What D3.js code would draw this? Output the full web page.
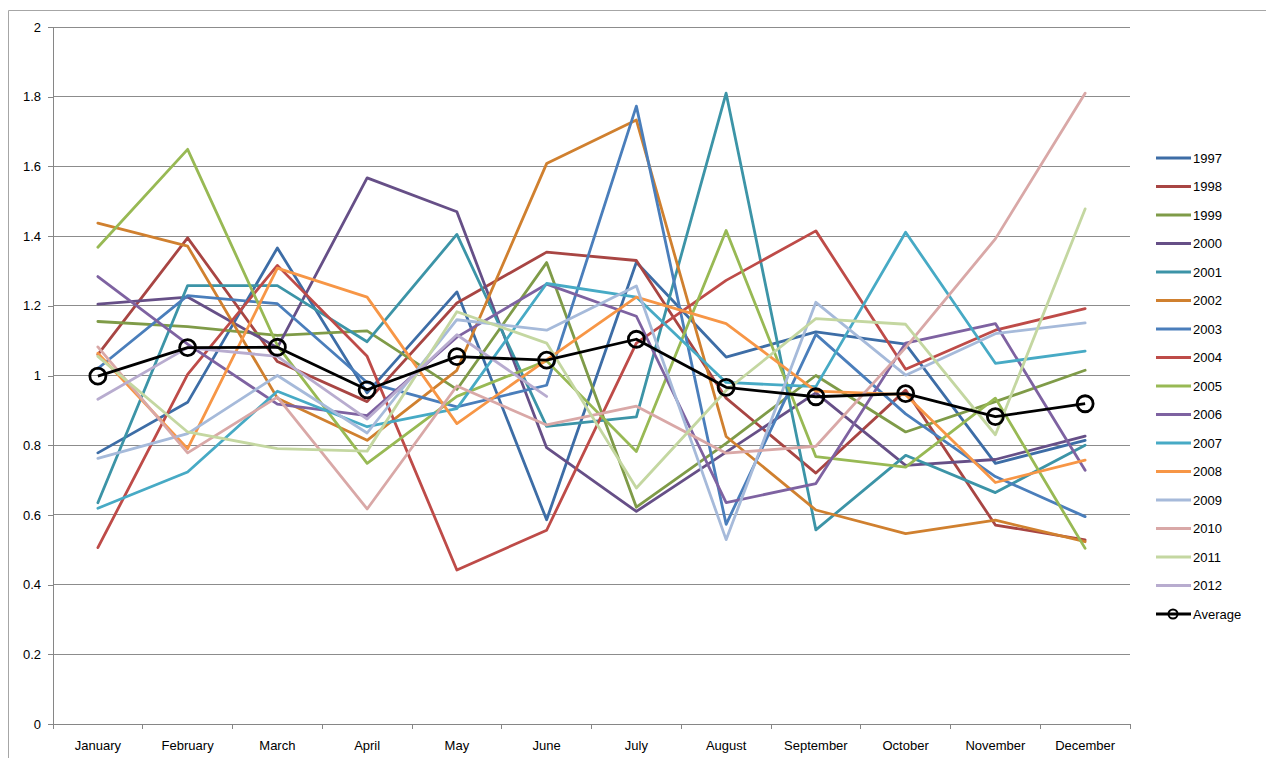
<!DOCTYPE html>
<html><head><meta charset="utf-8">
<script src="https://cdn.jsdelivr.net/npm/d3@7"></script>
<style>html,body{margin:0;padding:0;background:#fff;} svg{display:block;}</style>
</head><body>
<svg id="chart" width="1266" height="758"></svg>
<script>
const months = ["January","February","March","April","May","June","July","August","September","October","November","December"];
const yTicks = [0,0.2,0.4,0.6,0.8,1,1.2,1.4,1.6,1.8,2];
const years = ["1997","1998","1999","2000","2001","2002","2003","2004","2005","2006","2007","2008","2009","2010","2011","2012"];
const colors = ["#3D6DA6","#A84543","#7F9B48","#664F87","#3C94A7","#D0802F","#4A7EBB","#BE4B48","#98B954","#7E62A1","#47AAC5","#F79646","#A6BADA","#D9A8A7","#C4D7A1","#B8ACCF"];
const v1997 = [0.778,0.923,1.366,0.95,1.24,0.586,1.325,1.053,1.125,1.09,0.748,0.814];
const v1998 = [1.06,1.395,1.04,0.925,1.208,1.354,1.33,0.935,0.72,0.958,0.571,0.528];
const v1999 = [1.155,1.14,1.115,1.128,0.96,1.324,0.622,0.805,1.0,0.838,0.925,1.015];
const v2000 = [1.205,1.225,1.08,1.567,1.47,0.793,0.61,0.78,0.95,0.742,0.759,0.826];
const v2001 = [0.635,1.258,1.258,1.097,1.405,0.854,0.881,1.81,0.557,0.771,0.664,0.8];
const v2002 = [1.437,1.371,0.935,0.814,1.015,1.608,1.733,0.825,0.614,0.546,0.585,0.523];
const v2003 = [1.02,1.229,1.206,0.98,0.91,0.972,1.773,0.573,1.118,0.89,0.71,0.595];
const v2004 = [0.506,1.003,1.316,1.055,0.442,0.556,1.093,1.273,1.415,1.018,1.13,1.192];
const v2005 = [1.368,1.649,1.086,0.748,0.94,1.042,0.782,1.416,0.767,0.737,0.935,0.504];
const v2006 = [1.284,1.09,0.918,0.885,1.11,1.262,1.17,0.635,0.69,1.093,1.149,0.728];
const v2007 = [0.619,0.723,0.955,0.853,0.905,1.264,1.225,0.98,0.968,1.411,1.035,1.07];
const v2008 = [1.064,0.79,1.308,1.225,0.862,1.045,1.225,1.149,0.955,0.945,0.693,0.757];
const v2009 = [0.762,0.833,1.0,0.835,1.16,1.13,1.257,0.529,1.21,1.001,1.12,1.151];
const v2010 = [1.082,0.778,0.938,0.617,0.97,0.858,0.912,0.777,0.797,1.08,1.392,1.81];
const v2011 = [1.055,0.838,0.79,0.783,1.183,1.093,0.677,0.957,1.163,1.147,0.83,1.478];
const v2012 = [0.932,1.08,1.055,0.875,1.117,0.94,null,null,null,null,null,null];
const average = [0.998,1.08,1.081,0.959,1.054,1.044,1.104,0.966,0.939,0.948,0.882,0.919];
const seriesValues = [v1997,v1998,v1999,v2000,v2001,v2002,v2003,v2004,v2005,v2006,v2007,v2008,v2009,v2010,v2011,v2012];

const svg = d3.select("#chart");
const L = 53, R = 1130, T = 27, B = 724;
const x = d3.scaleBand().domain(months).range([L, R]).paddingInner(0).paddingOuter(0);
const y = d3.scaleLinear().domain([0, 2]).range([B, T]);
const font = "'Liberation Sans', Arial, sans-serif";

// chart area frame (top and left edges visible)
svg.append("path").attr("d", "M8.5,758 L8.5,10.5 L1266,10.5")
  .attr("fill", "none").attr("stroke", "#a6a6a6").attr("stroke-width", 1);

// gridlines
svg.append("g").selectAll("line").data(yTicks.filter(d => d > 0)).join("line")
  .attr("x1", L).attr("x2", R).attr("y1", d => y(d)).attr("y2", d => y(d))
  .attr("stroke", "#8c8c8c").attr("stroke-width", 1).attr("shape-rendering", "crispEdges");

// y axis
const yAxis = d3.axisLeft(y).tickValues(yTicks).tickSize(5).tickFormat(d3.format("~g"));
const gy = svg.append("g").attr("transform", `translate(${L},0)`).call(yAxis);
gy.select(".domain").attr("stroke", "#868686").attr("shape-rendering", "crispEdges");
gy.selectAll(".tick line").attr("stroke", "#868686").attr("shape-rendering", "crispEdges");
gy.selectAll("text").attr("font-family", font).attr("font-size", 13).attr("fill", "#000").attr("x", -12);

// x axis
const xAxis = d3.axisBottom(x).tickSize(0);
const gx = svg.append("g").attr("transform", `translate(0,${B})`).call(xAxis);
gx.select(".domain").attr("stroke", "#868686").attr("shape-rendering", "crispEdges");
gx.selectAll("text").attr("font-family", font).attr("font-size", 13).attr("fill", "#000").attr("dy", "1.75em");
// boundary tick marks
const bounds = months.map(m => x(m)).concat([R]);
svg.append("g").selectAll("line").data(bounds).join("line")
  .attr("x1", d => d).attr("x2", d => d).attr("y1", B).attr("y2", B + 5)
  .attr("stroke", "#868686").attr("shape-rendering", "crispEdges");

const cx = m => x(m) + x.bandwidth() / 2;
const line = d3.line().defined(d => d.v != null).x(d => cx(d.m)).y(d => y(d.v));

// series lines
const g = svg.append("g");
seriesValues.forEach((vals, i) => {
  g.append("path")
    .datum(months.map((m, j) => ({m, v: vals[j]})))
    .attr("d", line).attr("fill", "none")
    .attr("stroke", colors[i]).attr("stroke-width", 2.8)
    .attr("stroke-linejoin", "round").attr("stroke-linecap", "round");
});
// average
const avgData = months.map((m, j) => ({m, v: average[j]}));
g.append("path").datum(avgData).attr("d", line).attr("fill", "none")
  .attr("stroke", "#000").attr("stroke-width", 2.8).attr("stroke-linejoin", "round");
g.selectAll("circle.avg").data(avgData).join("circle").attr("class", "avg")
  .attr("cx", d => cx(d.m)).attr("cy", d => y(d.v)).attr("r", 8)
  .attr("fill", "none").attr("stroke", "#000").attr("stroke-width", 2.8);

// legend
const legNames = years.concat(["Average"]);
const legColors = colors.concat(["#000"]);
const leg = svg.append("g");
legNames.forEach((name, i) => {
  const ly = 158 + i * 28.5;
  leg.append("line").attr("x1", 1156).attr("x2", 1191).attr("y1", ly).attr("y2", ly)
    .attr("stroke", legColors[i]).attr("stroke-width", 3.2);
  if (name === "Average") {
    leg.append("circle").attr("cx", 1173).attr("cy", ly).attr("r", 4.5)
      .attr("fill", "none").attr("stroke", "#000").attr("stroke-width", 2);
  }
  leg.append("text").attr("x", 1193).attr("y", ly).attr("dy", "0.35em")
    .attr("font-family", font).attr("font-size", 13).attr("fill", "#000").text(name);
});
</script>
</body></html>
